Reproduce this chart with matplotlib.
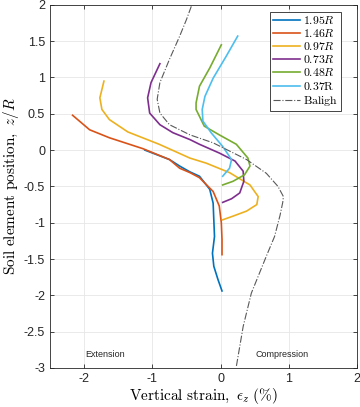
import numpy as np
import matplotlib
matplotlib.use("Agg")
import matplotlib.pyplot as plt

plt.rcParams['mathtext.fontset'] = 'cm'
plt.rcParams['font.family'] = ['Liberation Sans', 'DejaVu Sans']

# strain (%) vs z/R for each soil element
blue_x = [-1.11, -0.75, -0.60, -0.45, -0.31, -0.16, -0.11, -0.10, -0.09, -0.12, -0.10, -0.04, 0.02]
blue_z = [0.0, -0.13, -0.22, -0.30, -0.36, -0.54, -0.73, -0.96, -1.19, -1.42, -1.60, -1.78, -1.94]

orange_x = [-2.17, -1.92, -1.63, -1.14, -0.75, -0.60, -0.45, -0.31, -0.11, -0.02, 0.01, 0.02, 0.02]
orange_z = [0.48, 0.28, 0.17, 0.02, -0.13, -0.25, -0.31, -0.38, -0.57, -0.77, -1.00, -1.23, -1.44]

yellow_x = [-1.71, -1.77, -1.74, -1.63, -1.36, -0.90, -0.45, -0.21, 0.13, 0.43, 0.55, 0.53, 0.38, 0.18, 0.03]
yellow_z = [0.95, 0.72, 0.56, 0.42, 0.25, 0.08, -0.11, -0.18, -0.31, -0.48, -0.64, -0.75, -0.84, -0.91, -0.96]

purple_x = [-0.89, -1.02, -1.07, -1.04, -0.89, -0.70, -0.45, -0.31, -0.02, 0.21, 0.33, 0.34, 0.28, 0.16, 0.03]
purple_z = [1.19, 0.93, 0.72, 0.51, 0.35, 0.24, 0.145, 0.08, -0.04, -0.15, -0.29, -0.43, -0.59, -0.67, -0.72]

green_x = [0.01, -0.16, -0.31, -0.36, -0.36, -0.24, -0.02, 0.23, 0.40, 0.43, 0.35, 0.18, 0.03]
green_z = [1.45, 1.13, 0.88, 0.65, 0.56, 0.33, 0.21, 0.08, -0.11, -0.22, -0.34, -0.43, -0.48]

cyan_x = [0.25, 0.08, -0.11, -0.23, -0.27, -0.26, -0.14, 0.03, 0.16, 0.13, 0.03]
cyan_z = [1.57, 1.29, 0.99, 0.74, 0.56, 0.40, 0.24, 0.05, -0.13, -0.25, -0.36]

baligh_x = [-0.43, -0.50, -0.60, -0.75, -0.89, -0.93, -0.89, -0.75, -0.60, -0.45, -0.11, 0.38,
            0.67, 0.84, 0.92, 0.91, 0.87, 0.79, 0.67, 0.45, 0.33, 0.23]
baligh_z = [1.98, 1.80, 1.57, 1.25, 0.93, 0.70, 0.51, 0.35, 0.28, 0.21, 0.10, -0.13,
            -0.32, -0.50, -0.64, -0.72, -0.90, -1.19, -1.46, -1.97, -2.43, -2.98]

fig = plt.figure(figsize=(3.6, 4.07), dpi=100)
ax = fig.add_axes([0.139, 0.096, 0.853, 0.892])

lw = 1.2
ax.plot(blue_x, blue_z, color='#0072BD', lw=lw, label=r'$1.95R$')
ax.plot(orange_x, orange_z, color='#D95319', lw=lw, label=r'$1.46R$')
ax.plot(yellow_x, yellow_z, color='#EDB120', lw=lw, label=r'$0.97R$')
ax.plot(purple_x, purple_z, color='#7E2F8E', lw=lw, label=r'$0.73R$')
ax.plot(green_x, green_z, color='#77AC30', lw=lw, label=r'$0.48R$')
ax.plot(cyan_x, cyan_z, color='#4DBEEE', lw=lw, label=r'$\mathrm{0.37R}$')
ax.plot(baligh_x, baligh_z, color='0.35', lw=0.8, ls='-.', label=r'$\mathrm{Baligh}$')

ax.set_xlim(-2.5, 2)
ax.set_ylim(-3, 2)
ax.set_xticks([-2, -1, 0, 1, 2])
ax.set_xticklabels(['-2', '-1', '0', '1', '2'])
ax.set_yticks(np.arange(-3, 2.01, 0.5))
ax.set_yticklabels(['-3', '-2.5', '-2', '-1.5', '-1', '-0.5', '0', '0.5', '1', '1.5', '2'])
ax.grid(True, color='0.9', lw=0.6)
ax.tick_params(direction='in', top=True, right=True, labelsize=9, colors='0.15', length=3, width=0.6)
for s in ax.spines.values():
    s.set_color('0.15')
    s.set_linewidth(0.6)

ax.set_xlabel(r'$\mathrm{Vertical\ strain,}\ \epsilon_z\ \mathrm{(\%)}$', fontsize=11, labelpad=1)
ax.set_ylabel(r'$\mathrm{Soil\ element\ position,}\ z/R$', fontsize=11, labelpad=2)

ax.text(-1.7, -2.81, 'Extension', fontsize=6.5, ha='center', va='center', color='0.15')
ax.text(0.9, -2.81, 'Compression', fontsize=6.5, ha='center', va='center', color='0.15')

leg = ax.legend(loc='upper right', bbox_to_anchor=(0.948, 0.981), fontsize=8.5, fancybox=False,
                handlelength=2.3, handletextpad=0.3, borderpad=0.25, labelspacing=0.1,
                borderaxespad=0, edgecolor='0.15', framealpha=1)
leg.get_frame().set_linewidth(0.6)

fig.savefig('out.png', dpi=100)
